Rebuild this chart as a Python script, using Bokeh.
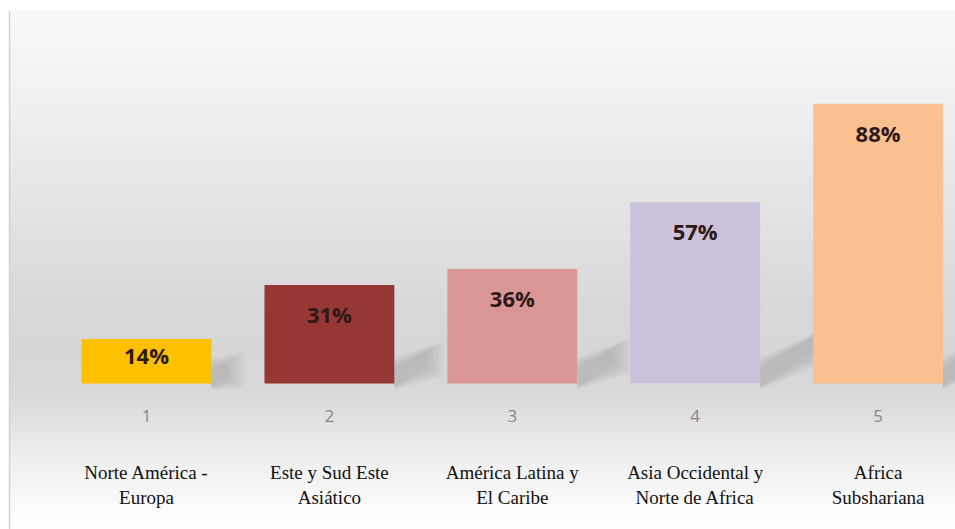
import numpy as np
from bokeh.plotting import figure
from bokeh.models import Range1d
from bokeh.core.properties import value
from bokeh.embed import file_html
from bokeh.resources import INLINE

# ---- data ----
positions = [1, 2, 3, 4, 5]
tick_labels = ["1", "2", "3", "4", "5"]
categories = ["Norte América -\nEuropa", "Este y Sud Este\nAsiático",
              "América Latina y\nEl Caribe", "Asia Occidental y\nNorte de Africa",
              "Africa\nSubshariana"]
values = [14, 31, 36, 57, 88]
value_labels = ["14%", "31%", "36%", "57%", "88%"]
colors = ["#FFC000", "#953735", "#D99694", "#CCC1DA", "#FAC090"]

# ---- layout (pixel scale helpers) ----
W, H = 955, 529
PX_X = 182.9          # pixels per category step
PX_Y = 3.18           # pixels per percent
base_px = 383         # canvas y of the zero line
x0 = 1 - 146 / PX_X
x1 = x0 + W / PX_X
y1 = base_px / PX_Y
y0 = (base_px - H) / PX_Y

p = figure(width=W, height=H, x_range=Range1d(x0, x1), y_range=Range1d(y0, y1),
           x_axis_location=None, y_axis_location=None, min_border=0,
           toolbar_location=None, output_backend="svg", background_fill_color="white",
           border_fill_color="white")
p.grid.visible = False
p.outline_line_color = None

# background gradient (image y 10 .. 529)
stops_y = np.array([10, 60, 120, 180, 240, 300, 350, 390, 430, 470, 505, 529])
stops_v = np.array([249, 245, 238, 231, 224, 217, 214, 217, 229, 242, 251, 255])
top_img_y = 10
rows = np.arange(H, top_img_y - 1, -1)  # bottom to top
g = np.interp(rows, stops_y, stops_v).astype(np.uint32)
img = (255 << 24) | (g << 16) | (g << 8) | g
img = img.reshape(-1, 1).astype(np.uint32)
bx0 = x0 + 9 / PX_X
by0 = y0
by1 = (base_px - top_img_y) / PX_Y
p.image_rgba(image=[img], x=bx0, y=by0, dw=x1 - bx0, dh=by1 - by0)
# left border
p.segment(x0=[bx0], y0=[by0], x1=[bx0], y1=[by1], line_color="#d2d2d2", line_width=1.5)

# soft shadows to the right of bars
half_w = 0.355
for pos, v in zip(positions, values):
    h_px = v * PX_Y
    L = 0.3 * h_px
    xr = pos + half_w
    for k in range(8):
        t = 8 - k
        xs = [xr, xr + (L + t * 2.5) / PX_X, xr + (L + t * 2.5) / PX_X, xr]
        ys = [(-2 - t * 0.5) / PX_Y, (0.7 * L - 2 - t * 1.5) / PX_Y,
              (0.7 * L + 10 + t * 1.5) / PX_Y, (14 + t * 1.5) / PX_Y]
        p.patch(xs, ys, fill_color="#707070", fill_alpha=0.035, line_color=None)

# bars
p.vbar(x=positions, top=values, bottom=0, width=2 * half_w, fill_color=colors, line_color=None)

# value labels inside bars
lab_y = [v - min(29 / PX_Y, 0.35 * v) for v in values]
p.text(x=positions, y=lab_y, text=value_labels, text_align="center", text_baseline="middle",
       text_font=value("Open Sans"), text_font_size="22px", text_font_style="bold",
       text_color="#2e1818")

# tick numbers
p.text(x=positions, y=[-32 / PX_Y] * 5, text=tick_labels, text_align="center",
       text_baseline="middle", text_font=value("Open Sans"), text_font_size="17px",
       text_color="#888888")

# category names (two lines each)
line1 = [c.split("\n")[0] for c in categories]
line2 = [c.split("\n")[1] for c in categories]
p.text(x=positions, y=[-89 / PX_Y] * 5, text=line1, text_align="center", text_baseline="middle",
       text_font=value("Liberation Serif"), text_font_size="19px", text_color="#111111")
p.text(x=positions, y=[-114 / PX_Y] * 5, text=line2, text_align="center", text_baseline="middle",
       text_font=value("Liberation Serif"), text_font_size="19px", text_color="#111111")

open("out.html", "w").write(file_html(p, INLINE))
